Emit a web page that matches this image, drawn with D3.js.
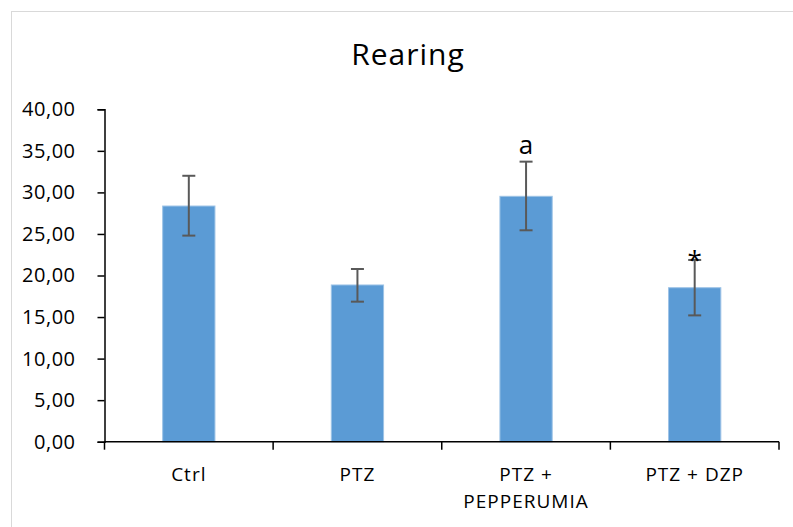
<!DOCTYPE html>
<html>
<head>
<meta charset="utf-8">
<script src="https://cdn.jsdelivr.net/npm/d3@7"></script>
<style>
  body { margin: 0; background: #fff; }
  svg { display: block; font-family: "Open Sans", "Noto Sans", sans-serif; }
</style>
</head>
<body>
<svg width="793" height="527"></svg>
<script>
var categories = [["Ctrl"], ["PTZ"], ["PTZ +", "PEPPERUMIA"], ["PTZ + DZP"]];
var means = [28.36, 18.86, 29.53, 18.53];
var errLow = [24.8, 16.85, 25.44, 15.2];
var errHigh = [32.0, 20.78, 33.7, 21.87];
var marks = ["", "", "a", "*"];
var yTicks = [0, 5, 10, 15, 20, 25, 30, 35, 40];

var svg = d3.select("svg"),
	margin = {top: 109.3, right: 14, bottom: 85.3, left: 104.5},
	width = svg.attr("width") - margin.left - margin.right,
	height = svg.attr("height") - margin.top - margin.bottom;

// chart frame
svg.append("rect")
	.attr("x", 11.5).attr("y", 11.5)
	.attr("width", 800).attr("height", 600)
	.attr("fill", "none")
	.attr("stroke", "#d9d9d9");

svg.append("text")
	.attr("x", 408).attr("y", 65)
	.attr("text-anchor", "middle")
	.style("font-size", "30px")
	.style("letter-spacing", "1px")
	.attr("fill", "#000")
	.text("Rearing");

var g = svg.append("g").attr("transform", "translate(" + margin.left + "," + margin.top + ")");

var x = d3.scaleBand().domain(d3.range(categories.length)).range([0, width]),
	y = d3.scaleLinear().domain([0, 40]).range([height, 0]);

var barW = x.bandwidth() * 0.31;

var fmt = function(d) { return d3.format(".2f")(d).replace(".", ","); };

// y axis
var yAxis = g.append("g")
	.call(d3.axisLeft(y).tickValues(yTicks).tickSize(7).tickPadding(22).tickFormat(fmt));
yAxis.select(".domain").attr("stroke", "#000").attr("stroke-width", 1.5);
yAxis.selectAll(".tick line").attr("stroke", "#000").attr("stroke-width", 1.5);
yAxis.selectAll(".tick text")
	.attr("fill", "#000")
	.style("font-size", "20px")
	.style("letter-spacing", "0.5px")
	.style("font-family", "\"Open Sans\", sans-serif");

// bars
g.selectAll(".bar")
	.data(means)
	.enter().append("rect")
	.attr("class", "bar")
	.attr("x", function(d, i) { return x(i) + (x.bandwidth() - barW) / 2; })
	.attr("y", function(d) { return y(d); })
	.attr("width", barW)
	.attr("height", function(d) { return height - y(d); })
	.attr("fill", "#5b9bd5")
	.attr("stroke", "#9dc3e6")
	.attr("stroke-width", 1);

// error bars
var cap = 6.5;
var err = g.selectAll(".err")
	.data(means)
	.enter().append("g")
	.attr("class", "err")
	.attr("stroke", "#595959")
	.attr("stroke-width", 2);
err.append("line")
	.attr("x1", function(d, i) { return x(i) + x.bandwidth() / 2; })
	.attr("x2", function(d, i) { return x(i) + x.bandwidth() / 2; })
	.attr("y1", function(d, i) { return y(errLow[i]); })
	.attr("y2", function(d, i) { return y(errHigh[i]); });
err.append("line")
	.attr("x1", function(d, i) { return x(i) + x.bandwidth() / 2 - cap; })
	.attr("x2", function(d, i) { return x(i) + x.bandwidth() / 2 + cap; })
	.attr("y1", function(d, i) { return y(errHigh[i]); })
	.attr("y2", function(d, i) { return y(errHigh[i]); });
err.append("line")
	.attr("x1", function(d, i) { return x(i) + x.bandwidth() / 2 - cap; })
	.attr("x2", function(d, i) { return x(i) + x.bandwidth() / 2 + cap; })
	.attr("y1", function(d, i) { return y(errLow[i]); })
	.attr("y2", function(d, i) { return y(errLow[i]); });

// significance marks
g.selectAll(".mark")
	.data(marks)
	.enter().append("text")
	.attr("class", "mark")
	.attr("x", function(d, i) { return x(i) + x.bandwidth() / 2; })
	.attr("y", function(d, i) { return y(errHigh[i]) + (d === "*" ? 9 : -8); })
	.attr("text-anchor", "middle")
	.style("font-size", "26px")
	.attr("fill", "#000")
	.text(function(d) { return d; });

// x axis: ticks at category boundaries
var bounds = d3.range(categories.length + 1).map(function(i) { return i * x.step(); });
var xAxis = g.append("g").attr("transform", "translate(0," + height + ")");
xAxis.append("line")
	.attr("x1", 0).attr("x2", width)
	.attr("stroke", "#000").attr("stroke-width", 1.5);
xAxis.selectAll(".xtick")
	.data(bounds)
	.enter().append("line")
	.attr("class", "xtick")
	.attr("x1", function(d) { return d; }).attr("x2", function(d) { return d; })
	.attr("y1", 0).attr("y2", 8)
	.attr("stroke", "#000").attr("stroke-width", 1.5);

var lbl = xAxis.selectAll(".xlabel")
	.data(categories)
	.enter().append("text")
	.attr("class", "xlabel")
	.attr("text-anchor", "middle")
	.attr("fill", "#000")
	.style("font-size", "19px")
	.style("letter-spacing", "1px");
lbl.selectAll("tspan")
	.data(function(d, i) { return d.map(function(t) { return {t: t, i: i}; }); })
	.enter().append("tspan")
	.attr("x", function(d) { return x(d.i) + x.bandwidth() / 2; })
	.attr("y", function(d, j) { return 39.3 + j * 27; })
	.text(function(d) { return d.t; });
</script>
</body>
</html>
